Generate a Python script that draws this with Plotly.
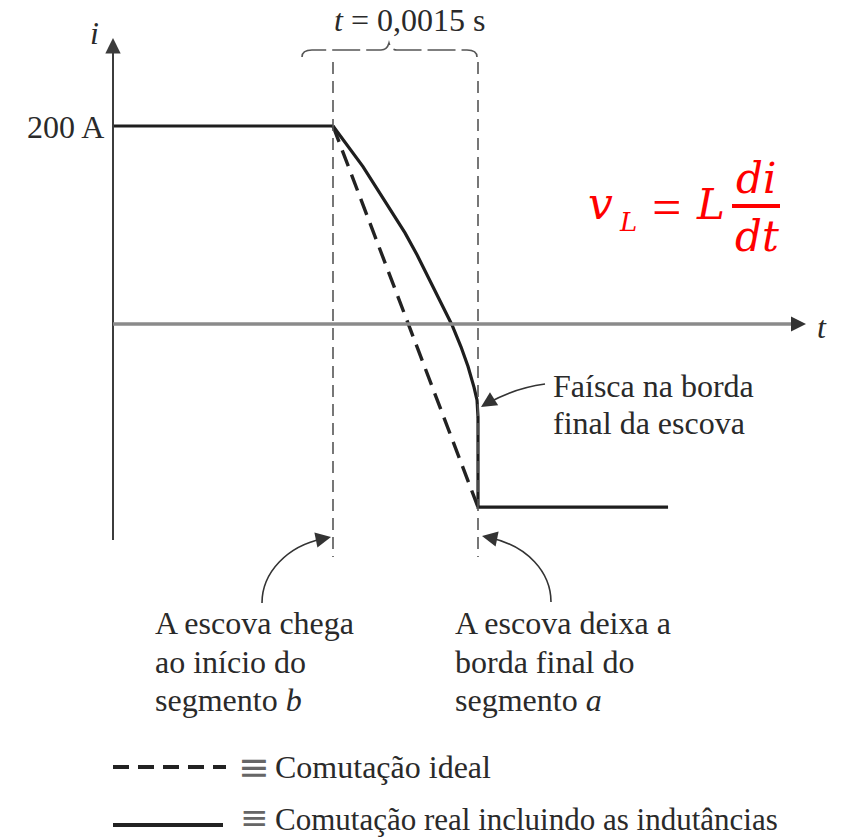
import plotly.graph_objects as go

W, H = 841, 840

# --- data: current during commutation (time in s, current in A) ---
t_before = [-0.002276, 0.0]
i_before = [200, 200]

t_real = [0.0, 0.000176, 0.000310, 0.000466, 0.000610, 0.000745, 0.000869, 0.000993,
          0.001107, 0.001231, 0.001324, 0.001397, 0.001459, 0.001490, 0.0015]
i_real = [200, 176, 159, 135, 113, 92, 70, 46, 24, -1, -23, -43, -64, -77, -94]

t_after = [0.0015, 0.0015, 0.003466]
i_after = [-94, -185, -185]

t_ideal = [0.0, 0.0015]
i_ideal = [200, -185]

t_marks = [0.0, 0.0015]          # brush arrives / brush leaves
i_level_label = "200 A"
interval_label = "<i>t</i> = 0,0015 s"

# axis scaling: 145 px per 1.5 ms, 0.99 px per A
kx = 0.0015 / 145.0
ky = 1 / 0.99
x_range = [-333 * kx, (W - 333) * kx]
y_range = [-(H - 324) * ky, 324 * ky]

INK = "#2a2a2a"
SERIF = "Liberation Serif, Times New Roman, serif"
MATH = "DejaVu Serif, serif"


def P(x, y):
    """pixel position -> paper fraction"""
    return x / W, 1 - y / H


def path(cmds):
    out = []
    for c in cmds:
        if isinstance(c, str):
            out.append(c)
        else:
            px, py = P(*c)
            out.append(f"{px:.5f},{py:.5f}")
    return " ".join(out)


fig = go.Figure()

solid = dict(color="#1e1e1e", width=3.2)
fig.add_trace(go.Scatter(x=t_before, y=i_before, mode="lines", line=solid, hoverinfo="skip"))
fig.add_trace(go.Scatter(x=t_real, y=i_real, mode="lines",
                         line=dict(color="#1e1e1e", width=3.2), hoverinfo="skip"))
fig.add_trace(go.Scatter(x=t_after, y=i_after, mode="lines", line=solid, hoverinfo="skip"))
fig.add_trace(go.Scatter(x=t_ideal, y=i_ideal, mode="lines",
                         line=dict(color="#222", width=3.4, dash="17px,9px"), hoverinfo="skip"))

shapes = []
# axes
shapes.append(dict(type="line", xref="paper", yref="paper",
                   x0=P(113, 540)[0], y0=P(113, 540)[1], x1=P(113, 46)[0], y1=P(113, 46)[1],
                   line=dict(color="#3c3c3c", width=2)))
shapes.append(dict(type="line", xref="paper", yref="paper",
                   x0=P(113, 324)[0], y0=P(113, 324)[1], x1=P(796, 324)[0], y1=P(796, 324)[1],
                   line=dict(color="#8a8a8a", width=3.5)))
# vertical dashed markers at the commutation instants
for tm in t_marks:
    shapes.append(dict(type="line", xref="x", yref="paper",
                       x0=tm, x1=tm, y0=P(0, 62)[1], y1=P(0, 557)[1],
                       line=dict(color="#555", width=1.6, dash="12px,7px")))
# brace over the interval
shapes.append(dict(type="path", xref="paper", yref="paper",
                   path=path(["M", (302, 57), "Q", (302, 50), (312, 50), "L", (381, 50),
                              "Q", (387, 50), (389, 43), "Q", (391, 50), (397, 50),
                              "L", (467, 50), "Q", (477, 50), (477, 57)]),
                   line=dict(color="#555", width=1.6, dash="28px,6px")))
# curved pointer arrows
shapes.append(dict(type="path", xref="paper", yref="paper",
                   path=path(["M", (262, 603), "C", (262, 572), (288, 546), (322, 539)]),
                   line=dict(color="#333", width=1.6)))
shapes.append(dict(type="path", xref="paper", yref="paper",
                   path=path(["M", (551, 602), "C", (551, 572), (527, 546), (491, 538)]),
                   line=dict(color="#333", width=1.6)))
shapes.append(dict(type="path", xref="paper", yref="paper",
                   path=path(["M", (545, 384), "Q", (515, 388), (488, 403)]),
                   line=dict(color="#333", width=1.6)))
# fraction bar of the formula
shapes.append(dict(type="line", xref="paper", yref="paper",
                   x0=P(732, 206)[0], y0=P(732, 206)[1], x1=P(780, 206)[0], y1=P(780, 206)[1],
                   line=dict(color="#ff0000", width=4)))
# legend samples
shapes.append(dict(type="line", xref="paper", yref="paper",
                   x0=P(113, 767)[0], y0=P(113, 767)[1], x1=P(226, 767)[0], y1=P(226, 767)[1],
                   line=dict(color="#222", width=4, dash="16px,9px")))
shapes.append(dict(type="line", xref="paper", yref="paper",
                   x0=P(113, 825)[0], y0=P(113, 825)[1], x1=P(223, 825)[0], y1=P(223, 825)[1],
                   line=dict(color="#222", width=4)))

ann = []


def head(tip, tail, color="#333", size=2.2, width=1.4):
    x, y = P(*tip)
    ann.append(dict(x=x, y=y, xref="paper", yref="paper", text="", showarrow=True,
                    ax=tail[0] - tip[0], ay=tail[1] - tip[1], arrowhead=2,
                    arrowsize=size, arrowwidth=width, arrowcolor=color))


head((113, 38), (113, 52), color="#3c3c3c", size=2.2, width=1.4)
head((806, 324), (794, 324), color="#333", size=2.0, width=1.5)
head((331, 537), (321, 539))
head((482, 536), (492, 538))
head((481, 407), (489, 402))


def text(x, y, s, size=32, anchor="left", color=INK, family=SERIF):
    px, py = P(x, y)
    ann.append(dict(x=px, y=py, xref="paper", yref="paper", text=s, showarrow=False,
                    xanchor=anchor, yanchor="middle", align=anchor,
                    font=dict(family=family, size=size, color=color)))


text(94, 33, "<i>i</i>", anchor="center")
text(822, 327, "<i>t</i>", anchor="center")
text(106, 127, i_level_label, anchor="right")
text(409, 20, interval_label, anchor="center")

for k, line in enumerate(["Faísca na borda", "final da escova"]):
    text(551, 386 + 37 * k, line)
for k, line in enumerate(["A escova chega", "ao início do", "segmento <i>b</i>"]):
    text(153, 623 + 38.5 * k, line)
for k, line in enumerate(["A escova deixa a", "borda final do", "segmento <i>a</i>"]):
    text(453, 623 + 38.5 * k, line)

text(254, 767, "≡", size=38, anchor="center", color="#666", family="DejaVu Sans")
text(273, 767, "Comutação ideal")
text(254, 817, "≡", size=34, anchor="center", color="#666", family="DejaVu Sans")
text(273, 819, "Comutação real incluindo as indutâncias", size=31)

# v_L = L di/dt
RED = "#ff0000"
text(586, 203, "<i>v</i>", size=44, color=RED, family=MATH)
text(617, 222, "<i>L</i>", size=26, color=RED, family=MATH)
text(666, 207, "=", size=52, anchor="center", color=RED)
text(710, 204, "<i>L</i>", size=42, anchor="center", color=RED, family=MATH)
text(756, 178, "<i>di</i>", size=42, anchor="center", color=RED, family=MATH)
text(757, 236, "<i>dt</i>", size=42, anchor="center", color=RED, family=MATH)

fig.update_layout(
    width=W, height=H,
    margin=dict(l=0, r=0, t=0, b=0, pad=0),
    paper_bgcolor="white", plot_bgcolor="white",
    showlegend=False,
    xaxis=dict(range=x_range, visible=False, fixedrange=True),
    yaxis=dict(range=y_range, visible=False, fixedrange=True),
    shapes=shapes, annotations=ann,
)

fig.write_html("out.html")
